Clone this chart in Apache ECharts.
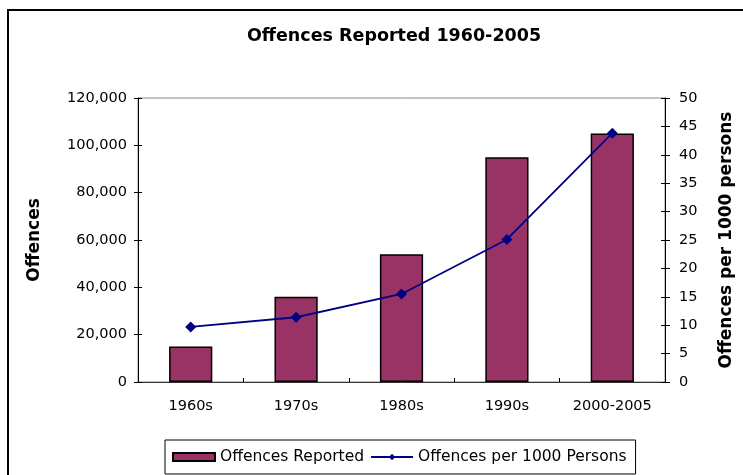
<!DOCTYPE html>
<html>
<head>
<meta charset="utf-8">
<script src="https://cdn.jsdelivr.net/npm/echarts@6/dist/echarts.min.js"></script>
<style>
  html, body { margin: 0; padding: 0; background: #fff; }
  #chart { width: 743px; height: 475px; }
</style>
</head>
<body>
<div id="chart"></div>
<script>
// 数据
const categories = ['1960s', '1970s', '1980s', '1990s', '2000-2005']
const offencesReported = [15000, 36000, 54000, 95000, 105000]
const offencesPerThousand = [9.7, 11.4, 15.5, 25.1, 43.8]

const FONT = 'DejaVu Sans'
const labelStyle = { color: '#000', fontFamily: FONT, fontSize: 14.5 }
const nameStyle = { color: '#000', fontFamily: FONT, fontSize: 17, fontWeight: 'bold' }

// 内侧刻度（与外侧刻度组成十字刻度）
const innerTickAxis = (extra) => Object.assign({
  axisLine: { show: false },
  axisLabel: { show: false },
  splitLine: { show: false },
  axisTick: { show: true, inside: true, length: 4, lineStyle: { color: '#000' } }
}, extra)

const chart = echarts.init(document.getElementById('chart'))
chart.setOption({
  animation: false,
  backgroundColor: '#fff',
  title: {
    text: 'Offences Reported 1960-2005',
    left: 389,
    top: 22,
    textAlign: 'center',
    textStyle: Object.assign({}, nameStyle, { fontSize: 17.5 })
  },
  graphic: [{
    type: 'rect',
    shape: { x: 8, y: 10, width: 800, height: 500 },
    style: { fill: 'none', stroke: '#000', lineWidth: 2 },
    silent: true
  }],
  legend: {
    left: 165,
    top: 440,
    padding: [9, 9, 9, 7],
    borderColor: '#000',
    borderWidth: 1,
    itemGap: 6,
    itemWidth: 42,
    itemHeight: 8,
    textStyle: Object.assign({}, labelStyle, { fontSize: 15.5 }),
    data: [
      { name: 'Offences Reported', icon: 'rect' },
      { name: 'Offences per 1000 Persons' }
    ]
  },
  grid: {
    left: 138,
    right: 78,
    top: 98,
    bottom: 93,
    show: true,
    borderColor: '#888',
    borderWidth: 1
  },
  xAxis: [{
    type: 'category',
    data: categories,
    axisLine: { lineStyle: { color: '#333' } },
    axisTick: { length: 5, lineStyle: { color: '#000' } },
    axisLabel: Object.assign({ margin: 17 }, labelStyle)
  }, innerTickAxis({
    type: 'category',
    data: categories,
    position: 'bottom'
  })],
  yAxis: [{
    type: 'value',
    min: 0,
    max: 120000,
    interval: 20000,
    name: 'Offences',
    nameLocation: 'middle',
    nameRotate: 90,
    nameGap: 95,
    nameTextStyle: nameStyle,
    axisLine: { show: true, lineStyle: { color: '#000' } },
    axisTick: { show: true, length: 4, lineStyle: { color: '#000' } },
    axisLabel: Object.assign({ margin: 11, formatter: v => v.toLocaleString('en-US') }, labelStyle),
    splitLine: { show: false }
  }, {
    type: 'value',
    position: 'right',
    min: 0,
    max: 50,
    interval: 5,
    name: 'Offences per 1000 persons',
    nameLocation: 'middle',
    nameRotate: 90,
    nameGap: 53,
    nameTextStyle: nameStyle,
    axisLine: { show: true, lineStyle: { color: '#000' } },
    axisTick: { show: true, length: 5, lineStyle: { color: '#000' } },
    axisLabel: Object.assign({ margin: 14 }, labelStyle),
    splitLine: { show: false }
  }, innerTickAxis({
    type: 'value', position: 'left', min: 0, max: 120000, interval: 20000
  }), innerTickAxis({
    type: 'value', position: 'right', min: 0, max: 50, interval: 5
  })],
  series: [{
    name: 'Offences Reported',
    type: 'bar',
    yAxisIndex: 0,
    barWidth: '41%',
    data: offencesReported,
    itemStyle: { color: '#993366', borderColor: '#000', borderWidth: 1.5 }
  }, {
    name: 'Offences per 1000 Persons',
    type: 'line',
    yAxisIndex: 1,
    data: offencesPerThousand,
    symbol: 'diamond',
    symbolSize: 11,
    lineStyle: { color: '#000080', width: 1.8 },
    itemStyle: { color: '#000080' }
  }]
})
</script>
</body>
</html>
